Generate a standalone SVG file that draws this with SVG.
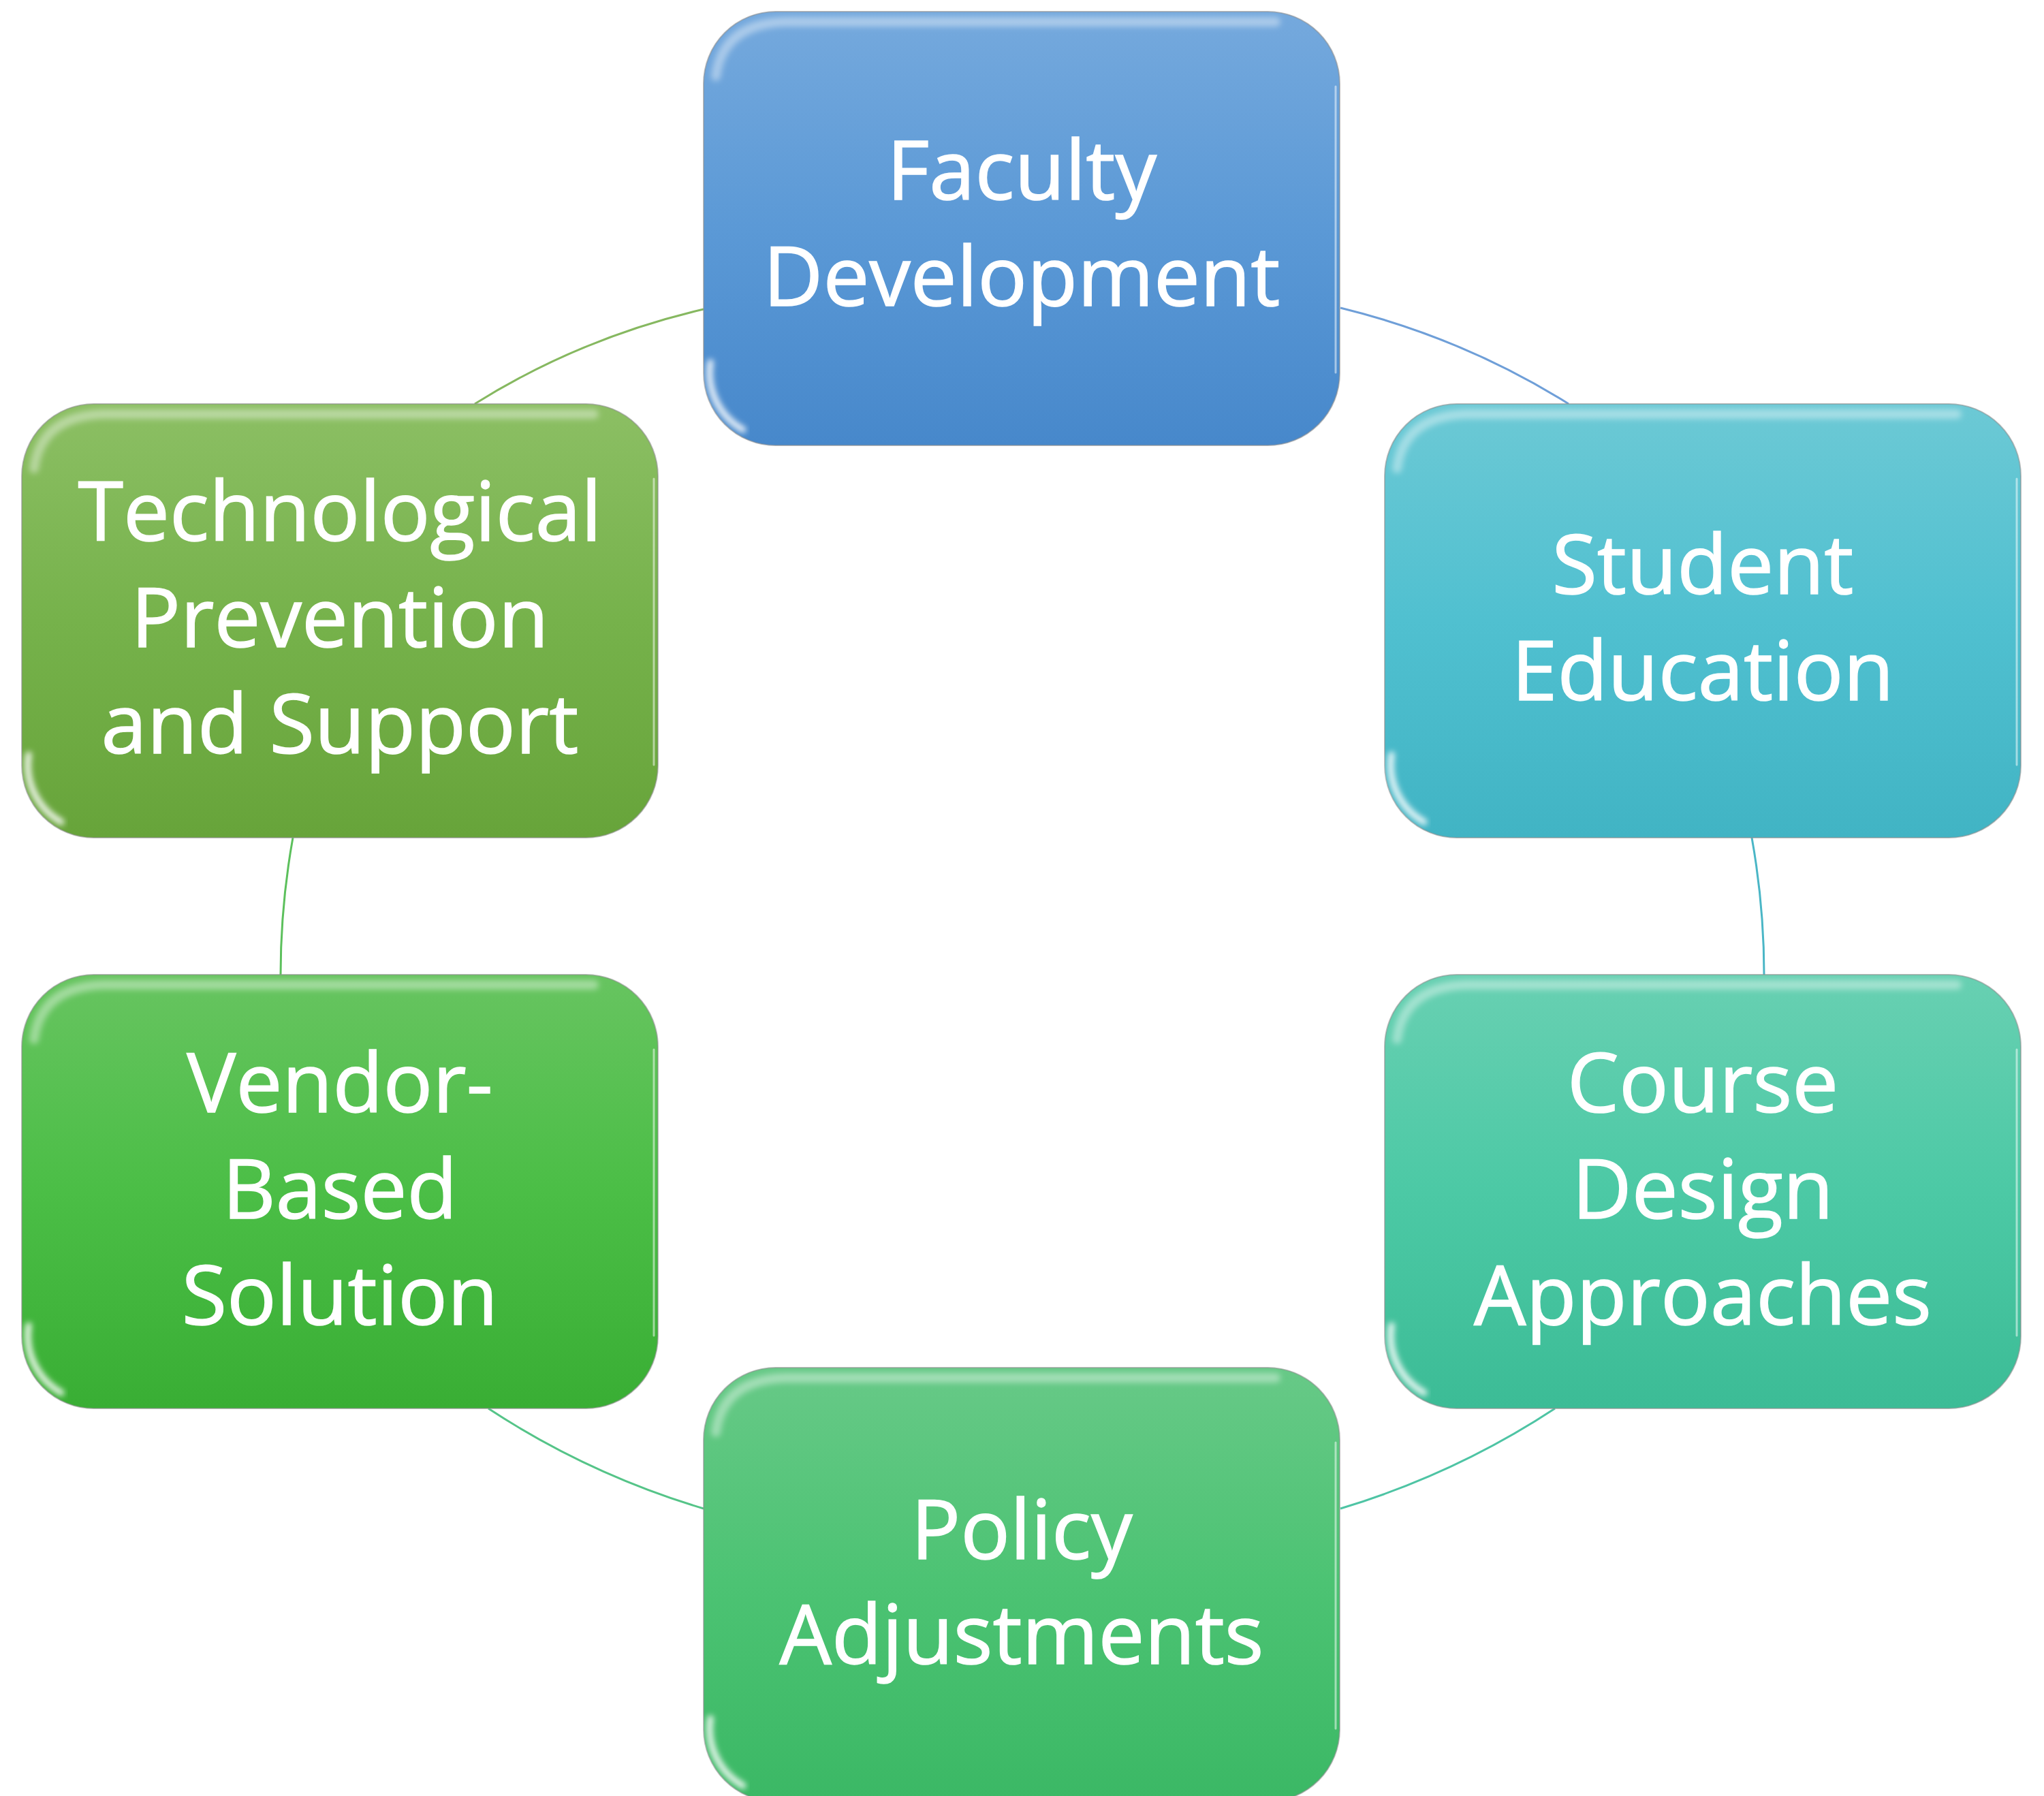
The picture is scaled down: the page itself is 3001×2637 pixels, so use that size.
<svg xmlns="http://www.w3.org/2000/svg" xmlns:xlink="http://www.w3.org/1999/xlink" width="3001" height="2637" viewBox="0 0 3001 2637">
<style>
.lbl{font-family:"Open Sans","Liberation Sans",sans-serif;font-size:121px;fill:#ffffff;stroke:#ffffff;stroke-width:1.5;text-anchor:middle}
.arc{fill:none;stroke-width:3}
.edge{stroke:#8c8c8c;stroke-opacity:0.55;stroke-width:2}
</style>
<defs>
<filter id="soft" x="-20%" y="-20%" width="140%" height="140%"><feGaussianBlur stdDeviation="4"/></filter>
<rect id="box" x="0" y="0" width="934" height="637" rx="106" ry="106"/>
<g id="gloss" fill="none" stroke-linecap="round">
<path d="M 18,95 Q 28,18 120,15 H 840" stroke="#ffffff" stroke-opacity="0.4" stroke-width="14" filter="url(#soft)"/>
<path d="M 10,515 A 96 96 0 0 0 58,614" stroke="#ffffff" stroke-opacity="0.9" stroke-width="9" filter="url(#soft)"/>
<path d="M 928,110 V 530" stroke="#ffffff" stroke-opacity="0.5" stroke-width="3"/>
</g>
<linearGradient id="gFac" x1="0" y1="0" x2="0" y2="1"><stop offset="0" stop-color="#75a9dd"/><stop offset="0.5" stop-color="#5b99d6"/><stop offset="1" stop-color="#4788cb"/></linearGradient>
<linearGradient id="gStu" x1="0" y1="0" x2="0" y2="1"><stop offset="0" stop-color="#6cc9d5"/><stop offset="0.5" stop-color="#50c0d0"/><stop offset="1" stop-color="#41b4c4"/></linearGradient>
<linearGradient id="gCou" x1="0" y1="0" x2="0" y2="1"><stop offset="0" stop-color="#68d0b2"/><stop offset="0.5" stop-color="#4cc9a5"/><stop offset="1" stop-color="#3cbc96"/></linearGradient>
<linearGradient id="gPol" x1="0" y1="0" x2="0" y2="1"><stop offset="0" stop-color="#67c987"/><stop offset="0.5" stop-color="#4cc373"/><stop offset="1" stop-color="#3bb865"/></linearGradient>
<linearGradient id="gVen" x1="0" y1="0" x2="0" y2="1"><stop offset="0" stop-color="#67c460"/><stop offset="0.5" stop-color="#4bbe46"/><stop offset="1" stop-color="#39ae34"/></linearGradient>
<linearGradient id="gTec" x1="0" y1="0" x2="0" y2="1"><stop offset="0" stop-color="#8cbf64"/><stop offset="0.5" stop-color="#76b24b"/><stop offset="1" stop-color="#67a43a"/></linearGradient>
</defs>
<rect width="3001" height="2637" fill="#ffffff"/>
<g id="connectors">
<path class="arc" stroke="#6f9fd8" d="M 1968,452 Q 2148,496 2303,593"/>
<path class="arc" stroke="#4ab6c6" d="M 2572,1230 Q 2590,1330 2590,1431"/>
<path class="arc" stroke="#4ec4a4" d="M 2283,2068 Q 2137,2164 1968,2215"/>
<path class="arc" stroke="#55c488" d="M 1033,2215 Q 863,2164 717,2068"/>
<path class="arc" stroke="#5cc05c" d="M 412,1431 Q 412,1330 430,1230"/>
<path class="arc" stroke="#86b860" d="M 697,593 Q 852,496 1033,454"/>
</g>
<g id="faculty" transform="translate(1033,17)">
<use xlink:href="#box" fill="url(#gFac)" class="edge"/>
<use xlink:href="#gloss"/>
<text class="lbl" x="467" y="276">Faculty</text>
<text class="lbl" x="467" y="432">Development</text>
</g>
<g id="student" transform="translate(2033,593)">
<use xlink:href="#box" fill="url(#gStu)" class="edge"/>
<use xlink:href="#gloss"/>
<text class="lbl" x="467" y="279">Student</text>
<text class="lbl" x="467" y="435">Education</text>
</g>
<g id="course" transform="translate(2033,1431)">
<use xlink:href="#box" fill="url(#gCou)" class="edge"/>
<use xlink:href="#gloss"/>
<text class="lbl" x="467" y="202">Course</text>
<text class="lbl" x="467" y="358">Design</text>
<text class="lbl" x="467" y="514">Approaches</text>
</g>
<g id="policy" transform="translate(1033,2008)">
<use xlink:href="#box" fill="url(#gPol)" class="edge"/>
<use xlink:href="#gloss"/>
<text class="lbl" x="467" y="281">Policy</text>
<text class="lbl" x="467" y="435">Adjustments</text>
</g>
<g id="vendor" transform="translate(32,1431)">
<use xlink:href="#box" fill="url(#gVen)" class="edge"/>
<use xlink:href="#gloss"/>
<text class="lbl" x="467" y="202">Vendor-</text>
<text class="lbl" x="467" y="358">Based</text>
<text class="lbl" x="467" y="514">Solution</text>
</g>
<g id="tech" transform="translate(32,593)">
<use xlink:href="#box" fill="url(#gTec)" class="edge"/>
<use xlink:href="#gloss"/>
<text class="lbl" x="467" y="201">Technological</text>
<text class="lbl" x="467" y="357">Prevention</text>
<text class="lbl" x="467" y="513">and Support</text>
</g>
</svg>
